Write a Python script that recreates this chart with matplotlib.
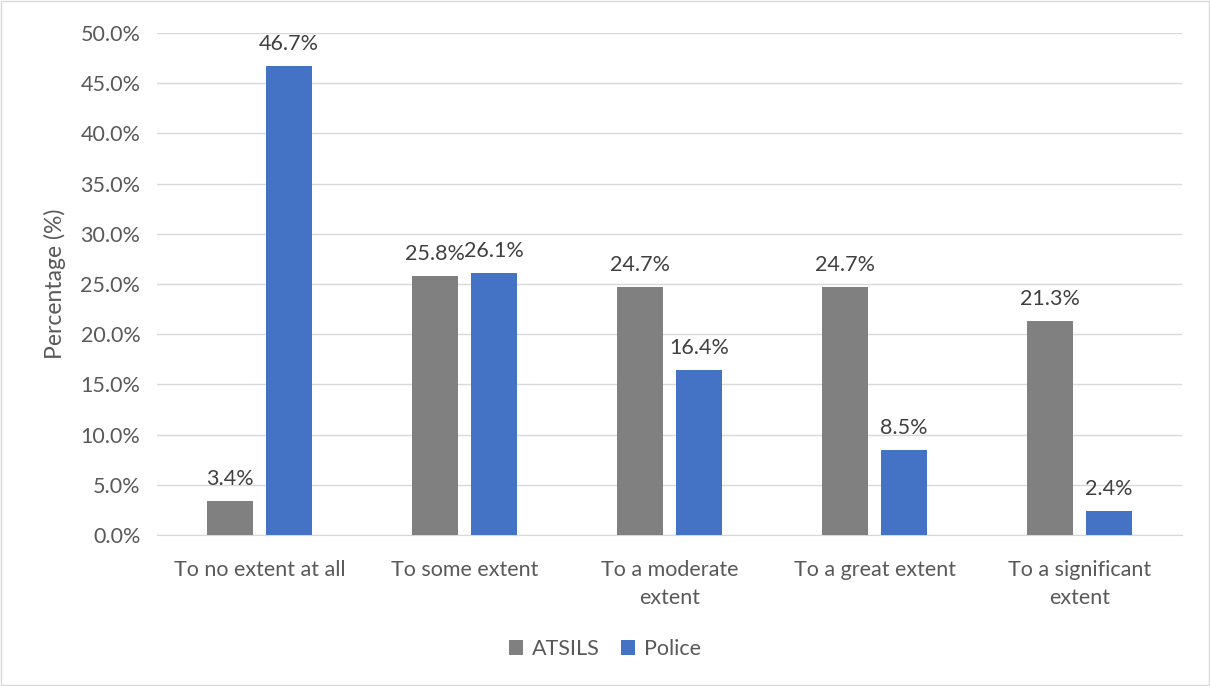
import numpy as np
import matplotlib.pyplot as plt
from matplotlib.ticker import FuncFormatter

categories = ["To no extent at all", "To some extent", "To a moderate\nextent",
              "To a great extent", "To a significant\nextent"]
atsils = [3.4, 25.8, 24.7, 24.7, 21.3]
police = [46.7, 26.1, 16.4, 8.5, 2.4]

plt.rcParams['font.family'] = ['Lato', 'DejaVu Sans']
txt = '#595959'
fs = 15.5

fig = plt.figure(figsize=(12.1, 6.86), dpi=100)
ax = fig.add_axes([157 / 1210, 1 - 535 / 686, 1025 / 1210, 502 / 686])

x = np.arange(len(categories))
w = 0.225
off = 0.143
b1 = ax.bar(x - off, atsils, w, color='#808080', label='ATSILS', zorder=3)
b2 = ax.bar(x + off, police, w, color='#4472C4', label='Police', zorder=3)

for bars, vals in ((b1, atsils), (b2, police)):
    for r, v in zip(bars, vals):
        ax.text(r.get_x() + r.get_width() / 2, v + 1.2, f"{v:.1f}%",
                ha='center', va='bottom', fontsize=fs, color='#404040')

ax.set_xlim(-0.5, len(categories) - 0.5)
ax.set_ylim(0, 50)
ax.set_yticks(np.arange(0, 50.1, 5))
ax.yaxis.set_major_formatter(FuncFormatter(lambda v, p: f"{v:.1f}%"))
ax.set_xticks(x)
ax.set_xticklabels(categories, fontsize=fs, color=txt, linespacing=1.5)
ax.tick_params(axis='y', labelsize=fs, labelcolor=txt, length=0, pad=12)
ax.tick_params(axis='x', length=0, pad=18)
ax.grid(axis='y', color='#D9D9D9', linewidth=1, zorder=0)
for s in ['top', 'right', 'left']:
    ax.spines[s].set_visible(False)
ax.spines['bottom'].set_color('#D9D9D9')
ax.set_ylabel('Percentage (%)', fontsize=16.5, color=txt, labelpad=10)

fig.legend(loc='center', bbox_to_anchor=(0.5, 1 - 649 / 686), ncol=2, frameon=False,
           fontsize=fs, labelcolor=txt, handlelength=0.65, handleheight=0.65,
           handletextpad=0.4, columnspacing=1.0)

fig.patches.append(plt.Rectangle((0.001, 0.001), 0.998, 0.998, transform=fig.transFigure,
                                 fill=False, edgecolor='#D9D9D9', linewidth=1))
fig.savefig('out.png', dpi=100)
